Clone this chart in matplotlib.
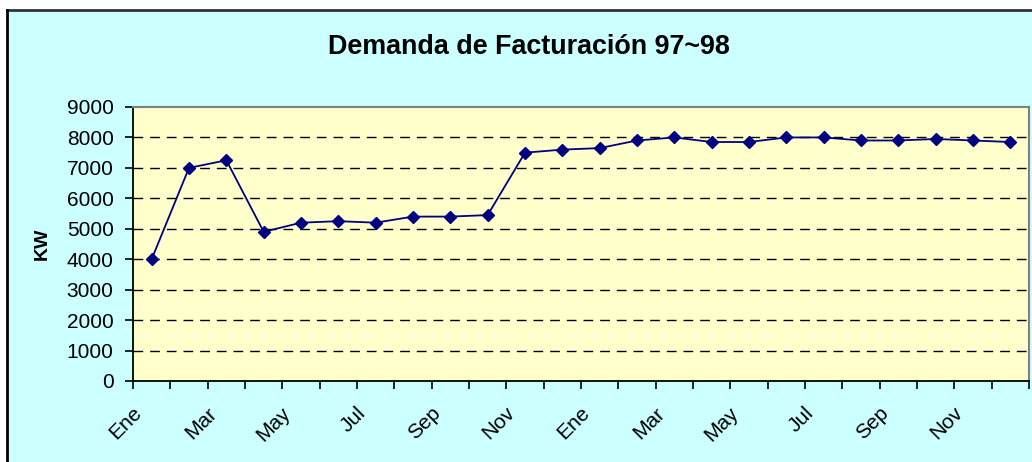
import matplotlib
matplotlib.use("Agg")
import matplotlib.pyplot as plt
from matplotlib.patches import Rectangle
from matplotlib.lines import Line2D
from matplotlib.transforms import ScaledTranslation
import numpy as np

months = ["Ene", "Feb", "Mar", "Abr", "May", "Jun", "Jul", "Ago", "Sep", "Oct", "Nov", "Dic",
          "Ene", "Feb", "Mar", "Abr", "May", "Jun", "Jul", "Ago", "Sep", "Oct", "Nov", "Dic"]
demanda = [4000, 7000, 7250, 4900, 5200, 5250, 5200, 5400, 5400, 5450, 7500, 7600,
           7650, 7900, 8000, 7850, 7850, 8000, 8000, 7900, 7900, 7950, 7900, 7850]
yticks = list(range(0, 9001, 1000))
title = "Demanda de Facturación 97~98"
ylabel = "KW"

W, H = 1032, 462
fig = plt.figure(figsize=(W / 100, H / 100), dpi=100)
fig.patch.set_facecolor("white")

# chart area background (cropped: border on left and top only)
fig.patches.append(Rectangle((7 / W, 0), 1, 1 - 10 / H, transform=fig.transFigure,
                             facecolor="#CCFFFF", edgecolor="none", zorder=-10))
fig.lines.append(Line2D([7 / W, 1], [1 - 10 / H, 1 - 10 / H], transform=fig.transFigure,
                        color="#333333", lw=2.0, zorder=-5))
fig.lines.append(Line2D([7 / W, 7 / W], [0, 1 - 10 / H], transform=fig.transFigure,
                        color="black", lw=2.0, zorder=-5))

left, right, top, bottom = 133, 1029, 107, 381
ax = fig.add_axes([left / W, 1 - bottom / H, (right - left) / W, (bottom - top) / H])
ax.set_zorder(5)
ax.set_facecolor("#FFFFCC")

fn = "Liberation Sans"
x = np.arange(len(demanda))
ax.plot(x, demanda, color="#000080", lw=1.3, marker="D", ms=6.6,
        markerfacecolor="#000080", markeredgecolor="#000080", zorder=3, clip_on=False)

ax.set_xlim(-0.5, len(demanda) - 0.5)
ax.set_ylim(0, 9000)
ax.set_yticks(yticks)
ax.set_yticklabels([str(v) for v in yticks], fontfamily=fn, fontsize=15)
ax.tick_params(axis="y", direction="out", length=6, width=1.2, pad=8, color="black")

# x: tick marks at category boundaries, labels every other category
ax.set_xticks(np.arange(-0.5, len(demanda), 1), minor=True)
ax.set_xticks(x[::2])
ax.set_xticklabels(months[::2], fontfamily=fn, fontsize=15, rotation=45,
                   ha="right", va="center", rotation_mode="anchor")
ax.tick_params(axis="x", which="major", length=0, pad=21)
ax.tick_params(axis="x", which="minor", direction="out", length=6, width=1.2, color="black")
off = ScaledTranslation(-13 / 100, 0, fig.dpi_scale_trans)
for lab in ax.get_xticklabels():
    lab.set_transform(lab.get_transform() + off)

for v in yticks[1:-1]:
    ax.axhline(v, color="black", lw=1.0, ls=(0, (7, 5)), zorder=1)

for s in ["top", "right"]:
    ax.spines[s].set_color("#808080")
    ax.spines[s].set_linewidth(1.5)
for s in ["left", "bottom"]:
    ax.spines[s].set_color("black")
    ax.spines[s].set_linewidth(1.3)

fig.text(529 / W, 1 - 47 / H, title, fontfamily=fn, fontweight="bold", fontsize=19.4,
         ha="center", va="center")
fig.text(42 / W, 1 - 244 / H, ylabel, fontfamily=fn, fontweight="bold", fontsize=14,
         rotation=90, ha="center", va="center")

fig.savefig("out.png", dpi=100, facecolor=fig.get_facecolor())
